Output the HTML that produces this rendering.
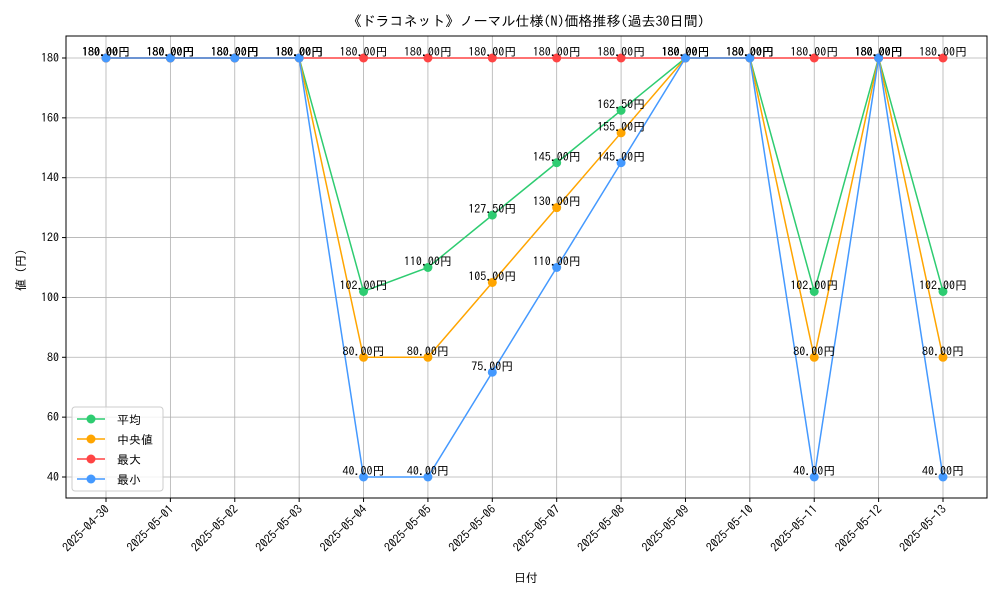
<!DOCTYPE html>
<html><head><meta charset="utf-8"><style>
body{margin:0;background:#fff}
svg text{font-family:"IPAGothic","Liberation Sans","Noto Sans CJK JP",sans-serif}
</style></head><body>
<svg id="chart" width="1000" height="600" xmlns="http://www.w3.org/2000/svg">
<rect width="1000" height="600" fill="#fff"/>
<text x="526" y="26" font-size="14" text-anchor="middle">《ドラコネット》ノーマル仕様(N)価格推移(過去30日間)</text>
<g id="grid"></g><g id="series"></g><g id="labels"></g><g id="axes"></g>
<text x="526" y="582" font-size="12" text-anchor="middle">日付</text>
<text transform="translate(25,267) rotate(-90)" font-size="12" text-anchor="middle">値（円）</text>
<g>
<rect x="72" y="407" width="91" height="84" rx="3" fill="#fff" fill-opacity="0.8" stroke="#ccc"/>
<g id="legend"></g>
</g>
</svg>
<script>
const dates=["2025-04-30","2025-05-01","2025-05-02","2025-05-03","2025-05-04","2025-05-05","2025-05-06","2025-05-07","2025-05-08","2025-05-09","2025-05-10","2025-05-11","2025-05-12","2025-05-13"];
const avgValues=[180,180,180,180,102,110,127.5,145,162.5,180,180,102,180,102];
const medianValues=[180,180,180,180,80,80,105,130,155,180,180,80,180,80];
const maxValues=[180,180,180,180,180,180,180,180,180,180,180,180,180,180];
const minValues=[180,180,180,180,40,40,75,110,145,180,180,40,180,40];
const yTicks=[40,60,80,100,120,140,160,180];
const seriesNames=["平均","中央値","最大","最小"];
const NS="http://www.w3.org/2000/svg";
const L=66,R=987,T=36,B=498;
const x=i=>106+i*(943-106)/(dates.length-1);
const y=v=>477-(v-40)*(477-58)/140;
function mk(tag,attrs,parent){const e=document.createElementNS(NS,tag);for(const k in attrs)e.setAttribute(k,attrs[k]);parent.appendChild(e);return e;}
const grid=document.getElementById('grid'),axes=document.getElementById('axes'),sg=document.getElementById('series'),lg=document.getElementById('labels'),leg=document.getElementById('legend');
dates.forEach((d,i)=>{
 const g=mk('line',{x1:x(i),x2:x(i),y1:T,y2:B,stroke:'#b0b0b0','stroke-width':0.8},grid);
 
 
 const tk=mk('line',{x1:x(i),x2:x(i),y1:B,y2:B+4,stroke:'#000'},axes);
 
 
 const t=mk('text',{transform:`translate(${x(i)+4},${B+12}) rotate(-45)`,'font-size':12,'text-anchor':'end'},axes);
 t.textContent=d;
 
 
});
yTicks.forEach(v=>{
 const g=mk('line',{x1:L,x2:R,y1:y(v),y2:y(v),stroke:'#b0b0b0','stroke-width':0.8},grid);
 
 
 const tk=mk('line',{x1:L-4,x2:L,y1:y(v),y2:y(v),stroke:'#000'},axes);
 
 
 const t=mk('text',{x:L-7,y:y(v)+4,'font-size':12,'text-anchor':'end'},axes);
 t.textContent=v;
 
 
});
const frame=mk('rect',{x:L,y:T,width:R-L,height:B-T,fill:'none',stroke:'#000','stroke-width':1},axes);


const all=[avgValues,medianValues,maxValues,minValues];
const colors=["#2ecc71","#ffa500","#ff4444","#4499ff"];
all.forEach((vals,s)=>{
 const p=mk('polyline',{points:vals.map((v,i)=>x(i)+','+y(v)).join(' '),fill:'none',stroke:colors[s],'stroke-width':1.5},sg);
 
 
 vals.forEach((v,i)=>{
  const c=mk('circle',{cx:x(i),cy:y(v),r:4.5,fill:colors[s]},sg);
  
  
  const t=mk('text',{x:x(i),y:y(v)-2,'font-size':12,'text-anchor':'middle'},lg);
  t.textContent=v.toFixed(2)+'円';
  
  
 });
 const ly=419+s*20;
 const ll=mk('line',{x1:77,x2:105,y1:ly,y2:ly,stroke:colors[s],'stroke-width':1.5},leg);
 
 
 const lc=mk('circle',{cx:91,cy:ly,r:4.5,fill:colors[s]},leg);
 
 
 const lt=mk('text',{x:117,y:ly+5,'font-size':12},leg);
 lt.textContent=seriesNames[s];
 
 
});
</script>
</body></html>
